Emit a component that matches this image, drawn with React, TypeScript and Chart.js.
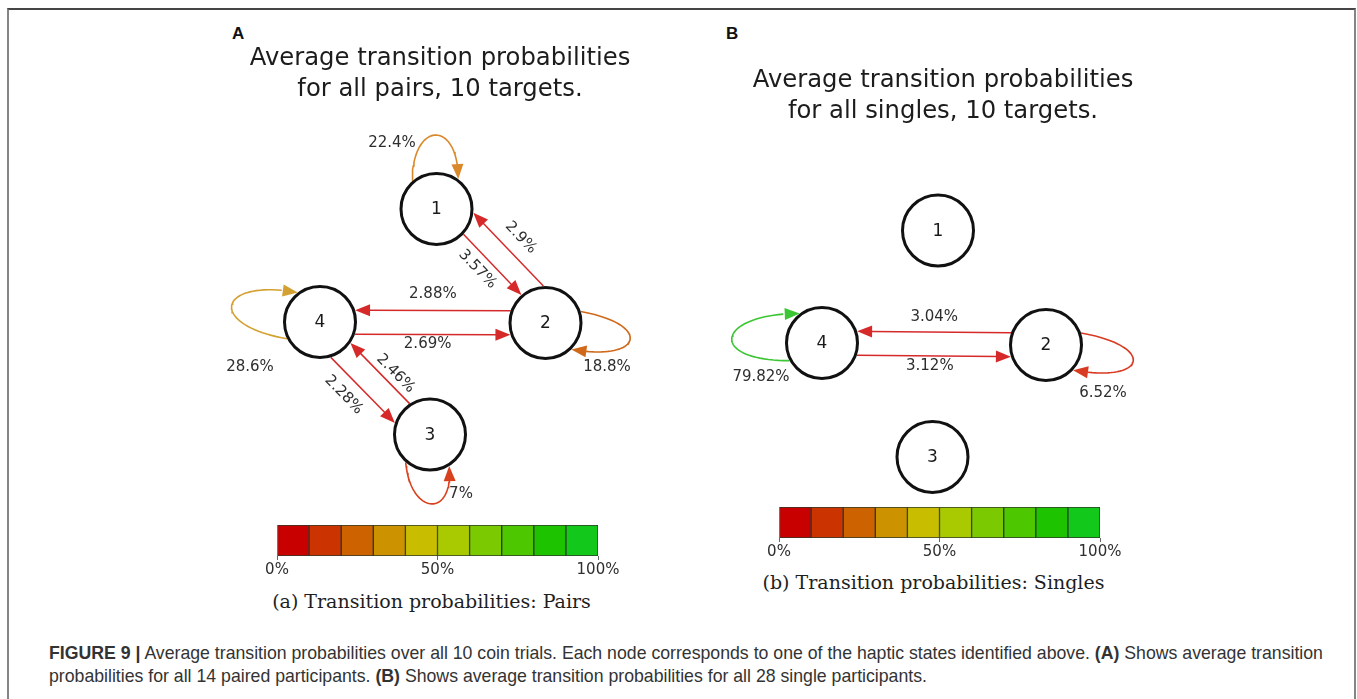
import React, { useEffect, useRef } from 'react';
import { Chart, registerables } from 'chart.js';

Chart.register(...registerables);

// ---------------- data ----------------
// Panel A: pairs
const pairNodeX = [436.5, 545.5, 430, 320];
const pairNodeY = [209, 323, 434.5, 322];
const pairEdgeFrom = [1, 2, 2, 4, 4, 3];
const pairEdgeTo = [2, 1, 4, 2, 3, 4];
const pairEdgeProb = [3.57, 2.9, 2.88, 2.69, 2.28, 2.46];
const pairLoopNode = [1, 2, 3, 4];
const pairLoopProb = [22.4, 18.8, 7, 28.6];
const pairTitle = ['Average transition probabilities', 'for all pairs, 10 targets.'];

// Panel B: singles
const singleNodeX = [938, 1046, 932.5, 822];
const singleNodeY = [230.5, 345, 457, 343];
const singleEdgeFrom = [2, 4];
const singleEdgeTo = [4, 2];
const singleEdgeProb = [3.04, 3.12];
const singleLoopNode = [4, 2];
const singleLoopProb = [79.82, 6.52];
const singleTitle = ['Average transition probabilities', 'for all singles, 10 targets.'];

// Colour bar
const colorbarSteps = [10, 10, 10, 10, 10, 10, 10, 10, 10, 10];
const colorbarTicks = [0, 50, 100];

// ---------------- styles ----------------
const colorbarColors = ['#c90000', '#cb3300', '#cc6300', '#cc9200', '#c9bd00', '#a9c900', '#7bc900', '#4dc800', '#1ec300', '#12c81a'];
const EDGE_COLOR = '#d62a2a';
const NODE_R = 37;
const ARROW_LEN = 15;
const ARROW_HALF = 6;
const FONT = '"DejaVu Sans", Verdana, sans-serif';

const pairEdgeStyle = [
  { offset: -2, ln: 14, la: -7, rotate: true },
  { offset: 24, ln: 17, la: 0, rotate: true },
  { offset: 12, ln: 16, la: 0, rotate: false },
  { offset: 12, ln: 10, la: -5, rotate: false },
  { offset: 17, ln: 17, la: -10, rotate: true },
  { offset: 7, ln: 11, la: -11, rotate: true },
];
const pairLoopStyle = [
  { a0: -131, a1: -54, dir: -90, len: 60, lx: -44.5, ly: -66, color: '#d9882a' },
  { a0: -18, a1: 45.5, dir: 10, len: 73, lx: 61.5, ly: 44, color: '#d0691a' },
  { a0: 131, a1: 58.7, dir: 85, len: 53, lx: 31, ly: 59.5, color: '#d8401e' },
  { a0: 153, a1: -127, dir: 190, len: 82, lx: -70, ly: 45, color: '#d4a030' },
];
const singleEdgeStyle = [
  { offset: 12, ln: 15, la: 0, rotate: false },
  { offset: 12, ln: 10, la: -4, rotate: false },
];
const singleLoopStyle = [
  { a0: 151.5, a1: -127, dir: 180, len: 83.5, lx: -61, ly: 34, color: '#3cc634' },
  { a0: -19, a1: 43, dir: 10, len: 76, lx: 57, ly: 48, color: '#d83a22' },
];

type Label = { x: number; y: number; text: string; rot: number };

function buildNetwork(nx: number[], ny: number[], from: number[], to: number[], prob: number[], loopNode: number[], loopProb: number[], edgeStyle: any[], loopStyle: any[]) {
  const datasets: any[] = [];
  const labels: Label[] = [];
  for (let i = 0; i < from.length; i++) {
    const a = from[i] - 1;
    const b = to[i] - 1;
    const ax = nx[a], ay = ny[a], bx = nx[b], by = ny[b];
    const d = Math.hypot(bx - ax, by - ay);
    const dx = (bx - ax) / d, dy = (by - ay) / d;
    const px = -dy, py = dx;
    const st = edgeStyle[i];
    const o = st.offset;
    const along = Math.sqrt(NODE_R * NODE_R - o * o);
    const sx = ax + px * o + dx * along, sy = ay + py * o + dy * along;
    const tx = bx + px * o - dx * along, ty = by + py * o - dy * along;
    const ex = tx - dx * (ARROW_LEN - 2), ey = ty - dy * (ARROW_LEN - 2);
    datasets.push({
      type: 'scatter',
      data: [{ x: sx, y: sy }, { x: ex, y: ey }],
      showLine: true,
      borderColor: EDGE_COLOR,
      borderWidth: 1.5,
      pointRadius: 0,
      pointHoverRadius: 0,
      tension: 0,
      clip: false,
      order: 2,
      arrow: { x: tx, y: ty, dx, dy, color: EDGE_COLOR },
    });
    let rot = Math.atan2(dy, dx);
    if (rot > Math.PI / 2) rot -= Math.PI;
    if (rot < -Math.PI / 2) rot += Math.PI;
    const mx = (sx + tx) / 2, my = (sy + ty) / 2;
    labels.push({ x: mx + px * st.ln + dx * st.la, y: my + py * st.ln + dy * st.la, text: prob[i] + '%', rot: st.rotate ? rot : 0 });
  }
  for (let i = 0; i < loopNode.length; i++) {
    const n = loopNode[i] - 1;
    const cx = nx[n], cy = ny[n];
    const st = loopStyle[i];
    const r0 = (st.a0 * Math.PI) / 180, r1 = (st.a1 * Math.PI) / 180, rd = (st.dir * Math.PI) / 180;
    const p0 = { x: cx + NODE_R * Math.cos(r0), y: cy + NODE_R * Math.sin(r0) };
    const p3 = { x: cx + NODE_R * Math.cos(r1), y: cy + NODE_R * Math.sin(r1) };
    const ux = Math.cos(rd), uy = Math.sin(rd);
    const p1 = { x: p0.x + st.len * ux, y: p0.y + st.len * uy };
    const p2 = { x: p3.x + st.len * ux, y: p3.y + st.len * uy };
    const pts: any[] = [];
    const N = 40;
    for (let k = 0; k <= N; k++) {
      const t = (k / N) * 0.93;
      const m = 1 - t;
      pts.push({
        x: m * m * m * p0.x + 3 * m * m * t * p1.x + 3 * m * t * t * p2.x + t * t * t * p3.x,
        y: m * m * m * p0.y + 3 * m * m * t * p1.y + 3 * m * t * t * p2.y + t * t * t * p3.y,
      });
    }
    const last = pts[pts.length - 1];
    const ddx = p3.x - last.x, ddy = p3.y - last.y;
    const dl = Math.hypot(ddx, ddy);
    datasets.push({
      type: 'scatter',
      data: pts,
      showLine: true,
      borderColor: st.color,
      borderWidth: 1.6,
      pointRadius: 0,
      pointHoverRadius: 0,
      tension: 0,
      clip: false,
      order: 2,
      arrow: { x: p3.x, y: p3.y, dx: ddx / dl, dy: ddy / dl, color: st.color },
    });
    labels.push({ x: cx + st.lx, y: cy + st.ly, text: loopProb[i] + '%', rot: 0 });
  }
  datasets.push({
    type: 'scatter',
    data: nx.map((x, i) => ({ x, y: ny[i] })),
    pointRadius: NODE_R - 1.5,
    pointHoverRadius: NODE_R - 1.5,
    pointBorderWidth: 3,
    pointHoverBorderWidth: 3,
    pointBackgroundColor: '#ffffff',
    pointBorderColor: '#111111',
    clip: false,
    order: 0,
  });
  return { datasets, labels };
}

const networkPlugin = (labels: Label[]) => ({
  id: 'networkDecor',
  afterDatasetsDraw(chart: any) {
    const ctx = chart.ctx;
    const xs = chart.scales.x, ys = chart.scales.y;
    ctx.save();
    chart.data.datasets.forEach((ds: any) => {
      if (!ds.arrow) return;
      const a = ds.arrow;
      const tx = xs.getPixelForValue(a.x), ty = ys.getPixelForValue(a.y);
      const bx0 = xs.getPixelForValue(a.x - a.dx), by0 = ys.getPixelForValue(a.y - a.dy);
      let dx = tx - bx0, dy = ty - by0;
      const l = Math.hypot(dx, dy);
      dx /= l; dy /= l;
      const bx = tx - dx * ARROW_LEN, by = ty - dy * ARROW_LEN;
      ctx.beginPath();
      ctx.moveTo(tx, ty);
      ctx.lineTo(bx - dy * ARROW_HALF, by + dx * ARROW_HALF);
      ctx.lineTo(bx + dy * ARROW_HALF, by - dx * ARROW_HALF);
      ctx.closePath();
      ctx.fillStyle = a.color;
      ctx.fill();
    });
    ctx.fillStyle = '#2e2e2e';
    ctx.font = '15px ' + FONT;
    ctx.textAlign = 'center';
    ctx.textBaseline = 'middle';
    labels.forEach((lb) => {
      const x = xs.getPixelForValue(lb.x), y = ys.getPixelForValue(lb.y);
      ctx.save();
      ctx.translate(x, y);
      ctx.rotate(lb.rot);
      ctx.fillText(lb.text, 0, 0);
      ctx.restore();
    });
    const nodeMeta = chart.getDatasetMeta(chart.data.datasets.length - 1);
    ctx.font = '17px ' + FONT;
    ctx.fillStyle = '#1a1a1a';
    nodeMeta.data.forEach((pt: any, i: number) => {
      ctx.fillText(String(i + 1), pt.x, pt.y + 1);
    });
    ctx.restore();
  },
});

function Network(props: any) {
  const ref = useRef<HTMLCanvasElement>(null);
  useEffect(() => {
    const { datasets, labels } = buildNetwork(props.nx, props.ny, props.from, props.to, props.prob, props.loopNode, props.loopProb, props.edgeStyle, props.loopStyle);
    const chart = new Chart(ref.current as HTMLCanvasElement, {
      type: 'scatter',
      data: { datasets },
      options: {
        responsive: false,
        animation: false,
        events: [],
        layout: { padding: 0, autoPadding: false },
        scales: {
          x: { type: 'linear', min: props.xMin, max: props.xMax, display: false },
          y: { type: 'linear', min: props.yMin, max: props.yMax, reverse: true, display: false },
        },
        plugins: {
          legend: { display: false },
          tooltip: { enabled: false },
          title: {
            display: true,
            text: props.title,
            color: '#1c1c1c',
            font: { family: FONT, size: 24.3, weight: 'normal', lineHeight: '31px' },
            padding: { top: props.titleTop, bottom: props.titleBottom },
          },
        },
      } as any,
      plugins: [networkPlugin(labels)],
    });
    return () => chart.destroy();
  }, []);
  return (
    <canvas ref={ref} width={props.width} height={props.height} style={{ position: 'absolute', left: props.left, top: props.top, width: props.width, height: props.height }} />
  );
}

function ColorBar(props: any) {
  const ref = useRef<HTMLCanvasElement>(null);
  useEffect(() => {
    const chart = new Chart(ref.current as HTMLCanvasElement, {
      type: 'bar',
      data: {
        labels: [''],
        datasets: colorbarSteps.map((v, i) => ({
          data: [v],
          backgroundColor: colorbarColors[i],
          borderColor: '#2f3a2a',
          borderWidth: 1,
          borderSkipped: false,
          barPercentage: 1,
          categoryPercentage: 1,
        })),
      },
      options: {
        indexAxis: 'y',
        responsive: false,
        animation: false,
        events: [],
        layout: { padding: { left: 25, right: 25, top: 1, bottom: 0 }, autoPadding: false },
        scales: {
          x: {
            stacked: true,
            min: 0,
            max: 100,
            afterBuildTicks: (s: any) => {
              s.ticks = colorbarTicks.map((v) => ({ value: v }));
            },
            ticks: { callback: (v: any) => v + '%', font: { family: FONT, size: 15 }, color: '#2e2e2e', padding: 1, maxRotation: 0, autoSkip: false },
            grid: { drawOnChartArea: false, drawTicks: true, tickLength: 4, color: '#666' },
            border: { display: false },
          },
          y: { stacked: true, display: false },
        },
        plugins: { legend: { display: false }, tooltip: { enabled: false } },
      } as any,
    });
    return () => chart.destroy();
  }, []);
  return <canvas ref={ref} width={371} height={56} style={{ position: 'absolute', left: props.left, top: props.top, width: 371, height: 56 }} />;
}

const subCaption: React.CSSProperties = {
  position: 'absolute',
  width: 500,
  textAlign: 'center',
  font: '19px "DejaVu Serif", serif',
  lineHeight: '24px',
  color: '#1e1e1e',
  whiteSpace: 'nowrap',
};

const panelLabel: React.CSSProperties = {
  position: 'absolute',
  font: 'bold 17px "Liberation Sans", Arial, sans-serif',
  lineHeight: '20px',
  color: '#111',
};

export default function App() {
  return (
    <div style={{ position: 'absolute', left: 0, top: 0, width: 1357, height: 699, background: '#fff', overflow: 'hidden' }}>
      <div style={{ position: 'absolute', left: 7, top: 8, width: 1345, height: 720, borderTop: '2px solid #454545', borderLeft: '2px solid #858585', borderRight: '2px solid #858585' }} />
      <div style={{ ...panelLabel, left: 232, top: 24 }}>A</div>
      <div style={{ ...panelLabel, left: 726, top: 24 }}>B</div>
      <Network
        left={220} top={20} width={440} height={500}
        xMin={220} xMax={660} yMin={110} yMax={520}
        titleTop={23.5} titleBottom={4.5}
        title={pairTitle}
        nx={pairNodeX} ny={pairNodeY}
        from={pairEdgeFrom} to={pairEdgeTo} prob={pairEdgeProb}
        loopNode={pairLoopNode} loopProb={pairLoopProb}
        edgeStyle={pairEdgeStyle} loopStyle={pairLoopStyle}
      />
      <Network
        left={713} top={20} width={460} height={500}
        xMin={713} xMax={1173} yMin={130} yMax={520}
        titleTop={45} titleBottom={3}
        title={singleTitle}
        nx={singleNodeX} ny={singleNodeY}
        from={singleEdgeFrom} to={singleEdgeTo} prob={singleEdgeProb}
        loopNode={singleLoopNode} loopProb={singleLoopProb}
        edgeStyle={singleEdgeStyle} loopStyle={singleLoopStyle}
      />
      <ColorBar left={252} top={524} />
      <ColorBar left={754} top={506} />
      <div style={{ ...subCaption, left: 181.5, top: 589 }}>(a) Transition probabilities: Pairs</div>
      <div style={{ ...subCaption, left: 683.5, top: 570 }}>(b) Transition probabilities: Singles</div>
      <div style={{ position: 'absolute', left: 49, top: 641.5, font: '17.7px "Liberation Sans", Arial, sans-serif', lineHeight: '23px', color: '#333', whiteSpace: 'nowrap' }}>
        <b>FIGURE 9 |</b> Average transition probabilities over all 10 coin trials. Each node corresponds to one of the haptic states identified above. <b>(A)</b> Shows average transition
        <br />
        probabilities for all 14 paired participants. <b>(B)</b> Shows average transition probabilities for all 28 single participants.
      </div>
    </div>
  );
}
